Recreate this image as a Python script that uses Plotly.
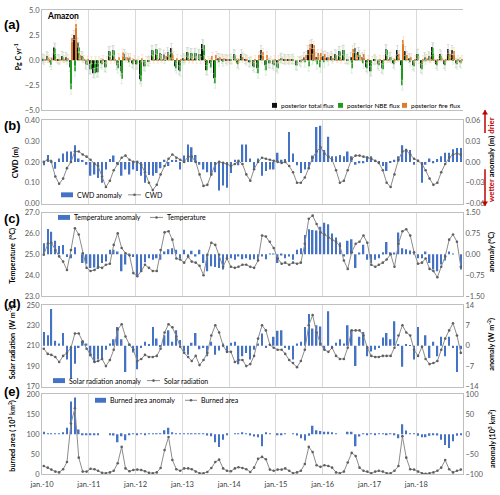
import plotly.graph_objects as go

# ---------------- data ----------------
months = [f"{2010 + i // 12}-{i % 12 + 1:02d}-15" for i in range(108)]
year_ticks = [f"{y}-01-01" for y in range(2010, 2019)]
year_labels = [f"jan.-{y % 100:02d}" for y in range(2010, 2019)]

total_flux = [0.15, 0.4, -0.2, 1.25, 0.1, 0.4, 0.3, -0.7, 2.5, 1.75,
              0.4, -0.4, -0.9, -1.3, -1.2, -0.3, -0.7, 0.9, 1.0, -0.5,
              -1.1, 0.6, 0.2, -0.3, -0.4, -1.9, -0.6, -0.1, 1.0, 1.1,
              0.7, 0.55, 0.8, 1.2, -0.6, -1.0, 0.2, 0.8, 0.7, 0.7,
              0.6, 1.6, -1.0, -0.3, -1.8, 0.2, 0.1, 0.1, 0.1, 0.6,
              -0.3, 0.6, 0.1, -0.2,
              -0.6, -0.8, 1.0, -0.5, -0.3, -0.4, -0.7, 0.2, 0.1, 0.1,
              0.1, -0.5, -0.1, 0.3, 1.0, 1.6, 0.3, 0.0, 0.4, 0.3,
              0.4, 0.6, 0.9, 1.0, 0.1, 0.3, 1.2, 0.8, 0.3, -0.7,
              -1.1, 0.05, -0.4, -0.8, 1.1, 0.3, -0.3, 1.0, -0.5, 0.9,
              0.2, -0.5, 0.6, -0.8, 0.3, 0.4, 1.3, -0.4, 0.6, -0.4,
              1.1, 1.0, -0.3, -0.2]
nbe_flux = [0.05, 0.25, -0.45, 1.15, 0.05, 0.3, 0.1, -2.9, -1.1, 1.25,
            0.3, -0.45, -0.9, -1.3, -1.2, -0.4, -0.7, 0.85, 0.95, -0.8,
            -1.85, 0.3, -0.1, -0.4, -0.4, -2.1, -0.6, -0.1, 0.95, 1.05,
            0.6, 0.15, 0.5, 0.7, -0.8, -1.1, 0.1, 0.75, 0.65, 0.7,
            0.6, 1.5, -1.0, -0.7, -2.3, -0.1, -0.1, 0.0, 0.1, 0.5,
            -0.4, 0.3, 0.0, -0.2,
            -0.7, -1.3, 0.2, -1.0, -0.3, -0.5, -0.8, 0.2, 0.05, 0.05,
            0.1, -0.5, -0.2, -0.2, -0.6, 0.1, -0.4, -0.7, -0.2, 0.0,
            0.2, 0.5, 0.85, 1.0, 0.1, -0.8, 0.7, 0.5, -0.3, -0.8,
            -1.1, 0.05, -0.5, -0.9, 1.0, 0.3, -0.4, 0.4, -2.5, 0.4,
            -0.1, -0.6, 0.6, -0.9, 0.1, 0.3, 1.2, -0.5, 0.4, -0.5,
            0.5, 0.1, -0.4, -0.3]
fire_flux = [0.1, 0.15, 0.25, 0.1, 0.05, 0.1, 0.2, 2.2, 3.6, 0.5,
             0.1, 0.05, 0.0, 0.0, 0.0, 0.1, 0.0, 0.05, 0.05, 0.3,
             0.75, 0.3, 0.3, 0.1, 0.0, 0.2, 0.0, 0.0, 0.05, 0.05,
             0.1, 0.4, 0.3, 0.5, 0.2, 0.1, 0.1, 0.05, 0.05, 0.0,
             0.0, 0.1, 0.0, 0.4, 0.5, 0.3, 0.2, 0.1, 0.0, 0.1,
             0.1, 0.3, 0.1, 0.0,
             0.1, 0.5, 0.8, 0.5, 0.0, 0.1, 0.1, 0.0, 0.05, 0.05,
             0.0, 0.0, 0.1, 0.5, 1.6, 1.5, 0.7, 0.7, 0.6, 0.3,
             0.2, 0.1, 0.05, 0.0, 0.0, 1.1, 0.5, 0.3, 0.6, 0.1,
             0.0, 0.0, 0.1, 0.1, 0.1, 0.0, 0.1, 0.6, 2.0, 0.5,
             0.3, 0.1, 0.0, 0.1, 0.2, 0.1, 0.1, 0.1, 0.2, 0.1,
             0.6, 0.9, 0.1, 0.1]

cwd = [0.20, 0.21, 0.20, 0.13, 0.095, 0.12, 0.17, 0.20, 0.25, 0.25,
       0.235, 0.225, 0.21, 0.19, 0.18, 0.13, 0.08, 0.11, 0.16, 0.19,
       0.22, 0.23, 0.21, 0.20, 0.20, 0.185, 0.15, 0.10, 0.065, 0.09,
       0.14, 0.18, 0.215, 0.235, 0.22, 0.21, 0.20, 0.225, 0.225, 0.20,
       0.14, 0.085, 0.09, 0.14, 0.19, 0.20, 0.195, 0.19, 0.18, 0.19,
       0.205, 0.19, 0.14, 0.11,
       0.165, 0.20, 0.22, 0.215, 0.21, 0.205, 0.20, 0.195, 0.20, 0.18,
       0.15, 0.10, 0.10, 0.125, 0.17, 0.22, 0.25, 0.27, 0.24, 0.225,
       0.21, 0.16, 0.10, 0.11, 0.16, 0.215, 0.23, 0.23, 0.225, 0.22,
       0.215, 0.205, 0.195, 0.16, 0.10, 0.08, 0.14, 0.21, 0.25, 0.255,
       0.235, 0.215, 0.205, 0.19, 0.16, 0.12, 0.09, 0.10, 0.15, 0.19,
       0.22, 0.235, 0.24, 0.235]
cwd_anom = [-0.005, 0.010, 0.003, -0.010, 0.005, 0.012, 0.015, 0.015, 0.024, 0.005,
            0.002, -0.004, -0.020, -0.018, -0.023, -0.030, -0.011, 0.004, 0.009, -0.003,
            -0.020, -0.011, -0.018, -0.011, -0.013, -0.020, -0.030, -0.019, -0.020, -0.016,
            -0.009, 0.003, -0.006, 0.002, 0.003, -0.011, 0.009, 0.025, 0.021, 0.010,
            -0.004, -0.011, -0.015, -0.020, -0.015, -0.041, -0.034, -0.037, -0.016, 0.003,
            -0.005, 0.025, 0.025,
            0.005, -0.011, 0.005, -0.020, -0.013, -0.011, -0.011, 0.013, 0.003, 0.004,
            0.043, 0.012, -0.005, -0.016, -0.011, -0.008, 0.009, 0.050, 0.052, 0.017,
            0.036, 0.008, 0.008, 0.010, 0.008, 0.015, 0.008, -0.004, -0.002, -0.002,
            0.008, 0.008, 0.002, -0.002, -0.006, -0.013, -0.001, 0.003, 0.008, 0.024,
            0.019, 0.017, -0.004, 0.003, -0.030, -0.004, 0.005, -0.002, 0.004, 0.008,
            0.013, 0.013, 0.018, 0.020, 0.020]

temperature = [24.98, 25.5, 25.55, 25.2, 24.9, 24.65, 24.25, 25.2, 26.25, 25.95,
               25.05, 24.35, 24.2, 24.25, 24.4, 24.35, 24.5, 24.55, 25.45, 26.0,
               25.3, 25.05, 24.95, 24.1, 23.95, 24.2, 24.5, 24.35, 24.2, 24.2,
               25.2, 26.05, 26.1, 25.7, 24.8, 24.75, 24.6, 24.9, 24.65, 24.6,
               24.45, 24.0, 24.98, 25.55, 25.45, 24.98, 24.4, 24.8, 24.4, 24.35,
               24.4, 24.5, 24.5, 24.4,
               24.35, 24.7, 25.9, 25.85, 25.6, 25.3, 24.8, 24.55, 24.6, 24.5,
               24.6, 24.55, 24.6, 25.5, 26.7, 26.85, 26.45, 26.05, 25.95, 25.8,
               25.7, 25.6, 25.4, 24.7, 24.3, 25.1, 25.5, 25.6, 25.9, 25.55,
               24.5, 24.4, 24.5, 24.6, 24.75, 25.0, 24.4, 25.5, 26.1, 26.2,
               25.9, 25.1, 24.55, 24.6, 24.8, 24.3, 24.2, 23.9, 24.4, 24.9,
               25.7, 25.95, 25.6, 24.4]
temp_anom = [0.40, 0.91, 0.81, 0.49, 0.30, 0.33, -0.10, -0.14, 0.25, 0.0,
             -0.31, -0.34, -0.49, -0.47, -0.53, -0.31, -0.26, 0.16, 0.16, 0.10,
             -0.61, -0.37, 0.01, -0.10, -0.79, -0.61, -0.29, -0.14, -0.20, -0.14,
             -0.20, 0.10, 0.18, 0.22, 0.16, -0.14, 0.16, -0.14, 0.13, -0.08,
             0.16, -0.31, -0.61, -0.43, -0.46, -0.49, -0.55, -0.14, -0.14, -0.20,
             -0.08, -0.18, -0.14,
             -0.20, -0.18, -0.22, -0.08, -0.18, 0.02, 0.02, -0.31, -0.04, -0.14,
             -0.08, -0.20, 0.16, 0.22, 0.69, 0.90, 0.87, 0.85, 0.99, 1.13,
             1.08, 0.75, 0.60, 0.42, -0.08, 0.49, 0.54, -0.49, 0.04, 0.34,
             -0.20, -0.31, -0.20, -0.14, 0.07, 0.44, 0.07, 0.04, 0.78, 0.22,
             0.18, 0.14, 0.03, -0.14, -0.14, 0.10, -0.31, -0.55, -0.61, -0.37,
             -0.22, 0.10, 0.02, 0.0, -0.55]

solar = [207, 202, 201, 199, 194, 200, 203, 208, 222, 222,
         214, 207, 201, 194, 195, 197, 190, 196, 206, 226,
         231, 219, 211, 206, 195, 197, 201, 199, 199, 200,
         207, 223, 231, 228, 219, 209, 203, 199, 195, 200,
         191, 196, 203, 220, 230, 223, 210, 204, 204, 194,
         196, 196, 190, 192,
         200, 217, 230, 225, 211, 208, 206, 206, 202, 196,
         193, 189, 195, 206, 230, 240, 223, 212, 206, 204,
         208, 200, 197, 197, 208, 225, 225, 225, 220, 208,
         200, 199, 199, 200, 200, 200, 208, 220, 230, 223,
         220, 206, 200, 209, 197, 192, 193, 195, 206, 217,
         225, 232, 220, 203]
solar_anom = [4.7, 3.6, 12.6, 1.7, 0.8, 4.4, -4.7, -11.2, -6.2, -0.8,
              1.7, 0.8, -3.6, -5.6, -4.7, -4.2, -1.4, 0.8, 2.2, 6.4,
              2.2, -9.0, 0.8, -2.3, -8.1, -0.8, 1.4, 0.3, 6.4, 2.5,
              -0.5, 3.6, 5.3, 1.4, 5.3, 2.0, -2.0, -3.1, 1.0, 4.4,
              -1.2, -0.8, -3.6, 1.4, -3.1, -1.6, 0.8, -2.5, 1.0, 1.4,
              -6.4, -3.6, -2.5,
              -4.7, -1.4, 0.8, 4.2, -0.8, 0.2, 3.1, 5.1, 5.3, -0.8,
              -1.4, -4.7, 0.8, 1.4, 6.4, 10.9, 5.9, 7.0, 6.6, -1.4,
              11.8, -0.8, 1.0, 2.2, 0.8, 7.0, 5.3, -7.0, 3.1, 4.7,
              -3.6, -2.0, -1.4, -0.8, 2.8, 4.4, 2.2, 8.4, 0.3, -7.2,
              0.6, 0.2, -4.7, 6.4, -0.8, 3.6, -4.2, 1.4, -3.6, 3.1,
              -3.6, 3.1, -0.8, -9.0, -1.2]

burned = [20, 16, 11, 6, 4, 12, 30, 127, 165, 41,
          6, 6, 13, 12, 8, 3, 2, 4, 8, 27,
          68, 14, 7, 10, 11, 10, 7, 3, 2, 4,
          15, 60, 93, 35, 12, 8, 14, 14, 12, 6,
          2, 2, 5, 15, 30, 36, 14, 8, 7, 14,
          17, 15, 12, 5,
          16, 38, 43, 37, 11, 8, 11, 11, 14, 8,
          2, 4, 8, 25, 68, 55, 22, 18, 22, 20,
          16, 4, 2, 6, 29, 53, 45, 16, 8, 6,
          2, 6, 8, 6, 2, 2, 8, 20, 95, 41,
          12, 11, 6, 2, 0.5, 2, 4, 8, 16, 35,
          12, 4, 8, 11]
burned_anom = [6, 1, 0.5, 0.5, 0.5, 4, 16, 82, 92, 12,
               -1, -1, -1, -1, -2, 0, 0, -0.5, -3, -20,
               -5, -15, -1, 1, -1, 1, -1, 1, 0.5, 0.5,
               1, 10, 16, 3, 1, 1, 1, 0.5, 0.5, 1,
               0.5, 0.5, -3, -5, -20, -32, -14, -2, 0, 1,
               2, 3, 2,
               -3, -6, -8, -30, 5, 1, 0, -1, -1, 1,
               0, 1, -3, -10, -16, -4, 21, 10, 8, 6,
               6, 5, 1, 0, 0, 6, 6, -30, -6, 1,
               -1, 1, -1, 0.5, 1, -1, 0.5, -1, -10, 25,
               9, 2, 2, -4, -8, -8, -4, -1, -3, -14,
               -27, -35, -18, -4, -2]

# ---------------- layout helpers ----------------
W, H = 500, 495
ML, MR, MT, MB = 42, 37, 6, 17


def px(x):
    return (x - ML) / (W - ML - MR)


def py(y):
    return (H - MB - y) / (H - MT - MB)


DAY = 86400000
FONT = "Lato"
TICKC = "#595959"
GRID = "#d9d9d9"
FRAME = "#bfbfbf"
BLUE = "#4472c4"
LINEC = "#8c8c8c"
MARKC = "#606060"
BLACK = "#111111"
GREEN = "#1e9a1e"
ORANGE = "#e07b2a"
RED = "#c00000"

fig = go.Figure()

# panel (a) bars
fig.add_trace(go.Bar(x=months, y=total_flux, width=8 * DAY, offset=-12 * DAY,
                     marker=dict(color=BLACK, line=dict(width=0)),
                     error_y=dict(type="constant", value=0.45, color="#c4c4c4", thickness=0.6, width=1.2),
                     xaxis="x", yaxis="y", showlegend=False, name="posterior total flux"))
fig.add_trace(go.Bar(x=months, y=nbe_flux, width=8 * DAY, offset=-4 * DAY,
                     marker=dict(color=GREEN, line=dict(width=0)),
                     error_y=dict(type="constant", value=0.5, color="#c3e6c3", thickness=0.6, width=1.2),
                     xaxis="x", yaxis="y", showlegend=False, name="posterior NBE flux"))
fig.add_trace(go.Bar(x=months, y=fire_flux, width=8 * DAY, offset=4 * DAY,
                     marker=dict(color=ORANGE, line=dict(width=0)),
                     error_y=dict(type="constant", value=0.35, color="#f6d3b8", thickness=0.6, width=1.2),
                     xaxis="x", yaxis="y", showlegend=False, name="posterior fire flux"))

panels = [
    ("x2", "y2", "y3", cwd_anom, cwd, "CWD anomaly", "CWD"),
    ("x3", "y4", "y5", temp_anom, temperature, "Temperature anomaly", "Temperature"),
    ("x4", "y6", "y7", solar_anom, solar, "Solar radiation anomaly", "Solar radiation"),
    ("x5", "y8", "y9", burned_anom, burned, "Burned area anomaly", "Burned area"),
]
for xa, ya_r, ya_l, anom, val, n1, n2 in panels:
    fig.add_trace(go.Bar(x=months, y=anom, width=12 * DAY, offset=-6 * DAY,
                         marker=dict(color=BLUE, line=dict(width=0)),
                         xaxis=xa, yaxis=ya_r, showlegend=False, name=n1))
    fig.add_trace(go.Scatter(x=months, y=val, mode="lines+markers",
                             line=dict(color=LINEC, width=1),
                             marker=dict(color=MARKC, size=2.6),
                             xaxis=xa, yaxis=ya_l, showlegend=False, name=n2))

doms = {
    "a": [py(108), py(6)],
    "b": [py(203), py(118)],
    "c": [py(297), py(212)],
    "d": [py(389), py(306)],
    "e": [0.0, py(397)],
}

tickfont = dict(family=FONT, size=7.5, color=TICKC)


def xax(anchor, show):
    d = dict(domain=[0, 1], anchor=anchor, type="date",
             range=["2010-01-01", "2019-01-01"],
             tickvals=year_ticks, ticktext=year_labels, showticklabels=show,
             ticks="", showgrid=True, gridcolor=GRID, gridwidth=1,
             showline=True, mirror=True, linecolor=FRAME, linewidth=1,
             tickfont=dict(family=FONT, size=7.5, color="#404040"),
             zeroline=False)
    if show:
        d["ticklabelstandoff"] = 3
    return d


def yax(dom, rng, tv, fmt, side, anchor, overlay=None):
    d = dict(range=rng, tickvals=tv, tickformat=fmt, side=side, anchor=anchor,
             showgrid=False, zeroline=False, ticks="", tickfont=tickfont,
             showline=True, linecolor=FRAME, linewidth=1)
    if overlay:
        d["overlaying"] = overlay
    else:
        d["domain"] = dom
    return d


layout = dict(
    width=W, height=H, margin=dict(l=ML, r=MR, t=MT, b=MB),
    paper_bgcolor="white", plot_bgcolor="white", barmode="overlay",
    showlegend=False, font=dict(family=FONT),
    xaxis=xax("y", False), xaxis2=xax("y2", False), xaxis3=xax("y4", False),
    xaxis4=xax("y6", False), xaxis5=xax("y8", True),
    yaxis=yax(doms["a"], [-5, 5], [-5, -2.5, 0, 2.5, 5], ".1f", "left", "x"),
    yaxis2=yax(doms["b"], [-0.06, 0.06], [-0.06, -0.03, 0, 0.03, 0.06], ".2f", "right", "x2"),
    yaxis3=yax(None, [0, 0.4], [0, 0.1, 0.2, 0.3, 0.4], ".2f", "left", "x2", "y2"),
    yaxis4=yax(doms["c"], [-1.5, 1.5], [-1.5, -0.75, 0, 0.75, 1.5], ".2f", "right", "x3"),
    yaxis5=yax(None, [23, 27], [23, 24, 25, 26, 27], ".1f", "left", "x3", "y4"),
    yaxis6=yax(doms["d"], [-14, 14], [-14, -7, 0, 7, 14], "d", "right", "x4"),
    yaxis7=yax(None, [170, 250], [170, 190, 210, 230, 250], "d", "left", "x4", "y6"),
    yaxis8=yax(doms["e"], [-100, 100], [-100, -50, 0, 50, 100], "d", "right", "x5"),
    yaxis9=yax(None, [0, 200], [0, 50, 100, 150, 200], "d", "left", "x5", "y8"),
)
fig.update_layout(**layout)

ann = []
shapes = []


def text(x, y, s, size=8, angle=0, xanchor="center", color="#000000", family=FONT):
    ann.append(dict(x=px(x), y=py(y), xref="paper", yref="paper", text=s,
                    showarrow=False, textangle=angle, xanchor=xanchor, yanchor="middle",
                    font=dict(family=family, size=size, color=color)))


# panel letters
for lab, yy in [("(a)", 21), ("(b)", 123), ("(c)", 218), ("(d)", 305), ("(e)", 394)]:
    text(12, yy, f"<b>{lab}</b>", size=13, family="Liberation Sans")
text(45, 12.5, "<b>Amazon</b>", size=8.5, xanchor="left")

# axis titles
TS = 7.2
text(17, 54, "<b>Pg C yr<sup>-1</sup></b>", size=7, angle=-90)
text(15, 161, "<b>CWD (m)</b>", size=TS + 0.5, angle=-90)
text(13, 256, "<b>Temperature  (°C)</b>", size=TS, angle=-90)
text(12, 344, "<b>Solar radiation  (W m<sup>-2</sup>)</b>", size=TS, angle=-90)
text(12, 439, "<b>burned area ( 10<sup>3</sup> km<sup>2</sup>)</b>", size=TS, angle=-90)
RX = 491.5
text(RX, 158, "<b><span style='color:#c00000'>wetter</span> anomaly (m) <span style='color:#c00000'>drier</span></b>",
     size=7.8, angle=-90)
text(RX, 252, "<b>anomaly (°C)</b>", size=TS, angle=-90)
text(RX, 346, "<b>anomaly (W m<sup>-2</sup>)</b>", size=TS, angle=-90)
text(RX, 442, "<b>anomaly (10<sup>3</sup> km<sup>2</sup>)</b>", size=TS, angle=-90)


# red arrows (shapes)
def red_arrow(x, y_tail, y_head):
    shapes.append(dict(type="line", xref="paper", yref="paper", x0=px(x), x1=px(x),
                       y0=py(y_tail), y1=py(y_head), line=dict(color=RED, width=1.5)))
    d = 4 if y_head > y_tail else -4
    path = (f"M {px(x - 2.5)},{py(y_head - d)} L {px(x + 2.5)},{py(y_head - d)} "
            f"L {px(x)},{py(y_head)} Z")
    shapes.append(dict(type="path", xref="paper", yref="paper", path=path,
                       fillcolor=RED, line=dict(color=RED, width=0.5)))


red_arrow(485, 131, 108)
red_arrow(485, 168, 205)


def key_rect(x0, x1, y, color, h=5):
    shapes.append(dict(type="rect", xref="paper", yref="paper", x0=px(x0), x1=px(x1),
                       y0=py(y + h / 2), y1=py(y - h / 2), fillcolor=color, line=dict(width=0)))


def key_line(x0, x1, y):
    shapes.append(dict(type="line", xref="paper", yref="paper", x0=px(x0), x1=px(x1),
                       y0=py(y), y1=py(y), line=dict(color=LINEC, width=1)))
    xm = (x0 + x1) / 2
    shapes.append(dict(type="circle", xref="paper", yref="paper", x0=px(xm - 1.3), x1=px(xm + 1.3),
                       y0=py(y + 1.3), y1=py(y - 1.3), fillcolor=MARKC, line=dict(width=0)))


LF = 7
# legend (a)
key_rect(272, 277, 103, BLACK)
text(279, 103, "posterior total flux", size=6.5, xanchor="left")
key_rect(338, 343, 103, GREEN)
text(345, 103, "posterior NBE flux", size=6.5, xanchor="left")
key_rect(402, 407, 103, ORANGE)
text(409, 103, "posterior fire flux", size=6.5, xanchor="left")
# legend (b)
key_rect(61, 73, 194, BLUE)
text(75, 194, "CWD anomaly", size=LF, xanchor="left")
key_line(128, 141, 194)
text(143, 194, "CWD", size=LF, xanchor="left")
# legend (c)
key_rect(58, 70, 217, BLUE)
text(72, 217, "Temperature anomaly", size=LF, xanchor="left")
key_line(150, 163, 217)
text(165, 217, "Temperature", size=LF, xanchor="left")
# legend (d)
key_rect(53, 65, 383, BLUE)
text(67, 383, "Solar radiation anomaly", size=LF, xanchor="left")
key_line(147, 160, 383)
text(162, 383, "Solar radiation", size=LF, xanchor="left")
# legend (e)
key_rect(95, 106, 403, BLUE)
text(108, 403, "Burned area anomaly", size=LF, xanchor="left")
key_line(185, 197, 403)
text(199, 403, "Burned area", size=LF, xanchor="left")

fig.update_layout(annotations=ann, shapes=shapes)
# remove the browser's default 8px page margin so the figure sits at the window origin
fig.write_html("out.html", config={"displayModeBar": False},
               post_script="document.body.style.margin='0px';document.body.style.overflow='hidden';")
